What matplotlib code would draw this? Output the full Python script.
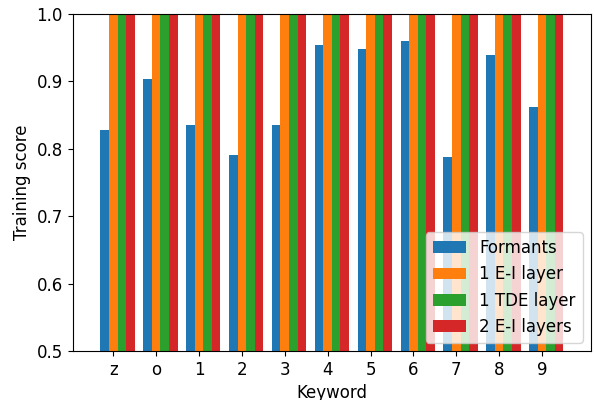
import numpy as np
import matplotlib
matplotlib.use("Agg")
import matplotlib.pyplot as plt

keywords = ["z", "o", "1", "2", "3", "4", "5", "6", "7", "8", "9"]
formants = [0.828, 0.903, 0.835, 0.791, 0.835, 0.954, 0.948, 0.960, 0.788, 0.939, 0.862]
one_ei = [1.0] * 11
one_tde = [1.0] * 11
two_ei = [1.0] * 11

series = [
	("Formants", formants),
	("1 E-I layer", one_ei),
	("1 TDE layer", one_tde),
	("2 E-I layers", two_ei),
]

plt.rcParams["font.size"] = 12

fig, ax = plt.subplots(figsize=(5.95, 4.0), dpi=100)
fig.subplots_adjust(left=0.122, right=0.993, top=0.965, bottom=0.1225)

x = np.arange(len(keywords))
width = 0.2
for i, (name, vals) in enumerate(series):
	ax.bar(x + (i - 1) * width, vals, width, label=name)

ax.set_xticks(x)
ax.set_xticklabels(keywords)
ax.set_xlim(-0.95, 11.14)
ax.set_ylim(0.5, 1.0)
ax.set_xlabel("Keyword")
ax.set_ylabel("Training score")
ax.legend(loc="lower right")

fig.savefig("out.png", dpi=100)
